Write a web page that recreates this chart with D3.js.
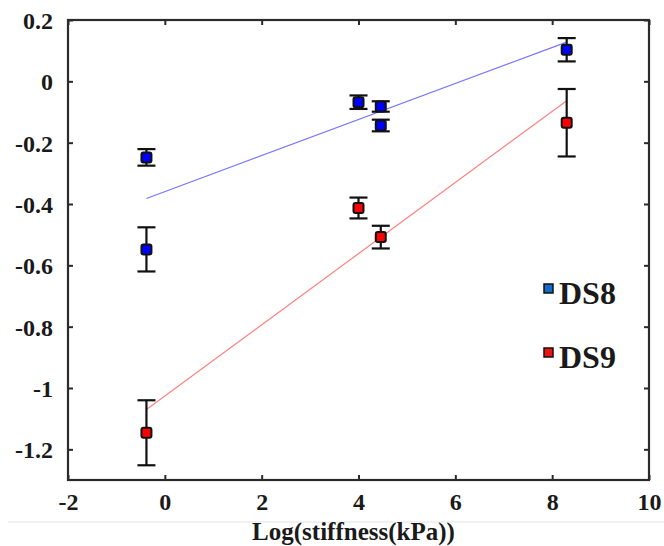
<!DOCTYPE html>
<html>
<head>
<meta charset="utf-8">
<script src="https://cdn.jsdelivr.net/npm/d3@7"></script>
<style>
  html, body { margin: 0; padding: 0; background: #fff; }
  svg { display: block; }
  text { font-family: "Liberation Serif", "Times New Roman", serif; font-weight: bold; fill: #1a1a1a; }
</style>
</head>
<body>
<svg id="chart" width="664" height="546"></svg>
<script>
// Log stiffness positions (x) for each measured sample
const ds8X   = [-0.38, -0.38, 4.0, 4.46, 4.46, 8.3];
const ds8Y   = [-0.248, -0.548, -0.068, -0.082, -0.144, 0.103];
const ds8Err = [0.027, 0.072, 0.022, 0.017, 0.019, 0.038];

const ds9X   = [-0.38, 4.0, 4.46, 8.3];
const ds9Y   = [-1.146, -0.413, -0.508, -0.135];
const ds9Err = [0.106, 0.034, 0.037, 0.11];

// Linear fit endpoints for each series
const fitX   = [-0.38, 8.3];
const ds8Fit = [-0.382, 0.128];
const ds9Fit = [-1.07, -0.063];

const xTicks = [-2, 0, 2, 4, 6, 8, 10];
const yTicks = [0.2, 0, -0.2, -0.4, -0.6, -0.8, -1, -1.2];
const seriesNames = ["DS8", "DS9"];

const svg = d3.select("#chart");
const plotL = 68, plotR = 649, plotT = 20, plotB = 480;

const x = d3.scaleLinear().domain([-2, 10]).range([plotL, plotR]);
const y = d3.scaleLinear().domain([-1.3, 0.2]).range([plotB, plotT]);

const axisColor = "#2b2b2b";
const serif = "'Liberation Serif', 'Times New Roman', serif";
const fmt = d => (d === 0 ? "0" : String(d));

// thin separator under the tick labels
svg.append("line")
  .attr("x1", 8).attr("x2", 664).attr("y1", 522).attr("y2", 522)
  .attr("stroke", "#e2e2e2").attr("stroke-width", 1);

// axes with inward ticks, mirrored on top and right
function styleAxis(g) {
  g.attr("font-family", serif);
  g.select(".domain").remove();
  g.selectAll(".tick line").attr("stroke", axisColor).attr("stroke-width", 2);
}
svg.append("g").attr("transform", `translate(0,${plotB})`)
  .call(d3.axisBottom(x).tickValues(xTicks).tickSizeInner(-5).tickSizeOuter(0).tickPadding(13).tickFormat(fmt))
  .call(styleAxis)
  .call(g => g.selectAll("text").attr("font-size", 24).attr("font-weight", "bold").attr("dy", "0.71em"));
svg.append("g").attr("transform", `translate(0,${plotT})`)
  .call(d3.axisTop(x).tickValues(xTicks).tickSizeInner(-5).tickSizeOuter(0).tickFormat(""))
  .call(styleAxis);
svg.append("g").attr("transform", `translate(${plotL},0)`)
  .call(d3.axisLeft(y).tickValues(yTicks).tickSizeInner(-5).tickSizeOuter(0).tickPadding(15).tickFormat(fmt))
  .call(styleAxis)
  .call(g => g.selectAll("text").attr("font-size", 24).attr("font-weight", "bold").attr("dy", "0.36em"));
svg.append("g").attr("transform", `translate(${plotR},0)`)
  .call(d3.axisRight(y).tickValues(yTicks).tickSizeInner(-5).tickSizeOuter(0).tickFormat(""))
  .call(styleAxis);

svg.append("rect")
  .attr("x", plotL).attr("y", plotT).attr("width", plotR - plotL).attr("height", plotB - plotT)
  .attr("fill", "none").attr("stroke", axisColor).attr("stroke-width", 2.2);

// fit lines
const line = d3.line().x(d => x(d[0])).y(d => y(d[1]));
svg.append("path").datum(fitX.map((v, i) => [v, ds8Fit[i]]))
  .attr("d", line).attr("fill", "none").attr("stroke", "#7777ff").attr("stroke-width", 1.2);
svg.append("path").datum(fitX.map((v, i) => [v, ds9Fit[i]]))
  .attr("d", line).attr("fill", "none").attr("stroke", "#ff8080").attr("stroke-width", 1.2);

// error bars and square markers
function drawSeries(xs, ys, errs, color) {
  const pts = xs.map((v, i) => ({ x: v, y: ys[i], e: errs[i] }));
  const g = svg.append("g");
  const cap = 9;
  pts.forEach(p => {
    const cx = x(p.x), y0 = y(p.y + p.e), y1 = y(p.y - p.e);
    g.append("line").attr("x1", cx).attr("x2", cx).attr("y1", y0).attr("y2", y1)
      .attr("stroke", "#111").attr("stroke-width", 2.2);
    g.append("line").attr("x1", cx - cap).attr("x2", cx + cap).attr("y1", y0).attr("y2", y0)
      .attr("stroke", "#111").attr("stroke-width", 2.2);
    g.append("line").attr("x1", cx - cap).attr("x2", cx + cap).attr("y1", y1).attr("y2", y1)
      .attr("stroke", "#111").attr("stroke-width", 2.2);
  });
  g.selectAll("rect.m").data(pts).join("rect")
    .attr("x", d => x(d.x) - 5).attr("y", d => y(d.y) - 5)
    .attr("width", 10).attr("height", 10).attr("rx", 2)
    .attr("fill", color).attr("stroke", "#111").attr("stroke-width", 2);
}
drawSeries(ds8X, ds8Y, ds8Err, "#0000ff");
drawSeries(ds9X, ds9Y, ds9Err, "#ff0000");

// legend
const legendColors = ["#1569c7", "#ee1111"];
seriesNames.forEach((name, i) => {
  const ly = 304 + i * 64;
  svg.append("rect").attr("x", 544).attr("y", ly - 20).attr("width", 9).attr("height", 9)
    .attr("fill", legendColors[i]).attr("stroke", "#111").attr("stroke-width", 1.5);
  svg.append("text").attr("x", 559).attr("y", ly).attr("font-size", 32).text(name);
});

// x axis title
svg.append("text").attr("x", (plotL + plotR) / 2 - 5).attr("y", 540)
  .attr("text-anchor", "middle").attr("font-size", 25).text("Log(stiffness(kPa))");
</script>
</body>
</html>
